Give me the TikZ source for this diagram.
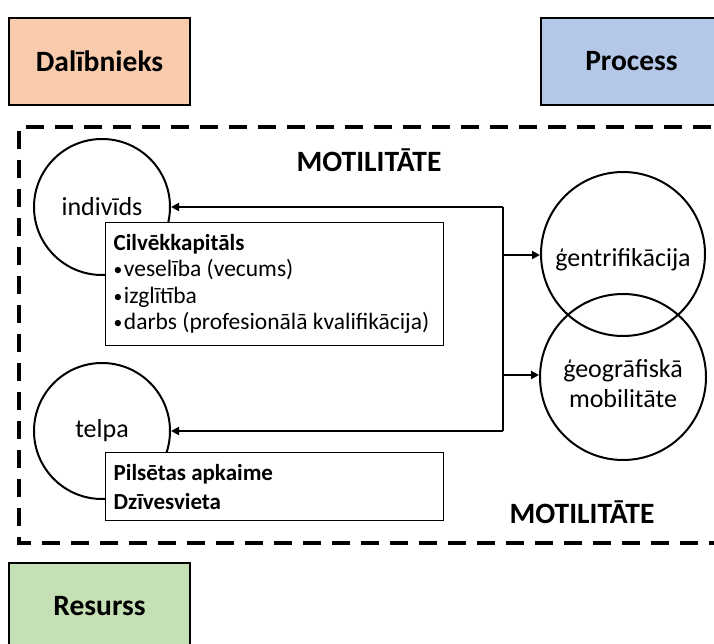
\documentclass[tikz,border=0pt]{standalone}
\usepackage{fontspec}
\setmainfont{Carlito}
\usetikzlibrary{arrows.meta}
\definecolor{peach}{HTML}{F8CBAD}
\definecolor{lblue}{HTML}{B4C7E7}
\definecolor{lgreen}{HTML}{C5E0B4}
\newcommand{\bul}{\raisebox{0.05em}{\scalebox{0.75}{•}}\hspace{1.5pt}}
\tikzset{
  titlebox/.style={draw=black, line width=1.2pt, minimum width=181pt, minimum height=87pt, font=\fontsize{29.5}{34}\selectfont\bfseries, inner sep=0pt},
  roundnode/.style={draw=black, circle, line width=2pt, inner sep=0pt, font=\fontsize{26}{30}\selectfont, align=center},
  infobox/.style={draw=black, fill=white, line width=1.3pt, anchor=north west, minimum width=338pt, text width=322pt, inner xsep=8pt, inner ysep=0pt, align=flush left},
  conn/.style={line width=2pt},
  arr/.style={line width=2pt, -{Triangle[length=8pt,width=8pt]}},
  headline/.style={font=\fontsize{29.5}{34}\selectfont\bfseries, inner sep=0pt}
}
\begin{document}
\begin{tikzpicture}[x=1pt,y=-1pt]
\useasboundingbox (0,0) rectangle (714,644);
\clip (0,0) rectangle (714,644);
\fill[white] (0,0) rectangle (714,644);
% legend boxes
\node[titlebox, fill=peach] (dal) at (99.5,61.5) {Dalībnieks};
\node[titlebox, fill=lblue] (proc) at (631.5,61.5) {Process};
\node[titlebox, fill=lgreen] (res) at (99.5,606.5) {Resurss};
% dashed frame
\draw[line width=4.5pt, dash pattern=on 18pt off 11pt] (740,127) -- (19,127) -- (19,543) -- (740,543);
\node[headline] (mot1) at (369,160) {MOTILITĀTE};
\node[headline] (mot2) at (582,512) {MOTILITĀTE};
% circles
\node[roundnode, minimum size=136pt] (indiv) at (102,207) {indivīds};
\node[roundnode, minimum size=136pt] (telpa) at (102,431) {telpa};
\node[roundnode, minimum size=164pt] (gentri) at (623,254) {\rule{0pt}{30pt}ģentrifikācija};
\node[roundnode, minimum size=166pt] (geo) at (623,377) {\rule{0pt}{32pt}ģeogrāfiskā\\mobilitāte};
% info boxes
\node[infobox, minimum height=123pt, font=\fontsize{23.5}{26.5}\selectfont] (cap) at (105,222)
  {{\fontsize{23}{26.5}\selectfont\textbf{Cilvēkkapitāls}}\\\bul veselība (vecums)\\\bul izglītība\\\bul darbs (profesionālā kvalifikācija)};
\node[infobox, minimum height=68pt, font=\fontsize{23}{29}\selectfont\bfseries] (pils) at (105,452)
  {Pilsētas apkaime\\Dzīvesvieta};
% connectors
\coordinate (jtop) at (503,207);
\coordinate (jbot) at (503,431);
\coordinate (jg1) at (503,255);
\coordinate (jg2) at (503,375);
\draw[conn] (jtop) -- (jbot);
\draw[arr] (jtop) -- (indiv);
\draw[arr] (jbot) -- (telpa);
\draw[arr] (jg1) -- (jg1 -| gentri.west);
\draw[arr] (jg2) -- (jg2 -| geo.west);
\end{tikzpicture}
\end{document}
